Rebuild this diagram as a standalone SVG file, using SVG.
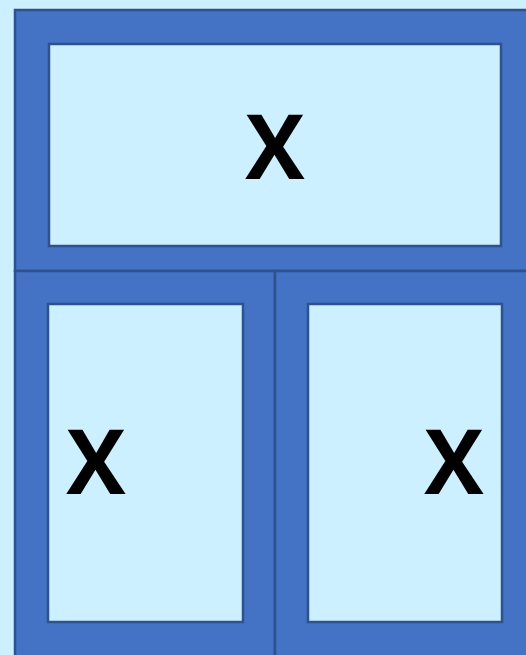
<svg xmlns="http://www.w3.org/2000/svg" width="526" height="655" viewBox="0 0 526 655">
<style>
.outer{fill:#4472C4;stroke:#2F528F;stroke-width:2.5}
.inner{fill:#CCF0FF;stroke:#2F528F;stroke-width:2.5}
.lbl{font-family:"Open Sans","Noto Sans",sans-serif;font-weight:700;font-size:89px;fill:#000;text-anchor:middle}
</style>
<rect x="0" y="0" width="526" height="655" fill="#CCF0FF"/>
<g id="top">
<rect class="outer" x="15" y="10" width="513" height="261"/>
<rect class="inner" x="49" y="44" width="452" height="202"/>
<text class="lbl" x="275" y="179">X</text>
</g>
<g id="bottom-left">
<rect class="outer" x="15" y="271" width="260" height="386"/>
<rect class="inner" x="48" y="304" width="195" height="318"/>
<text class="lbl" x="96" y="494">X</text>
</g>
<g id="bottom-right">
<rect class="outer" x="275" y="271" width="253" height="386"/>
<rect class="inner" x="308" y="304" width="194" height="318"/>
<text class="lbl" x="454" y="494">X</text>
</g>
<g id="connectors"/>
</svg>
